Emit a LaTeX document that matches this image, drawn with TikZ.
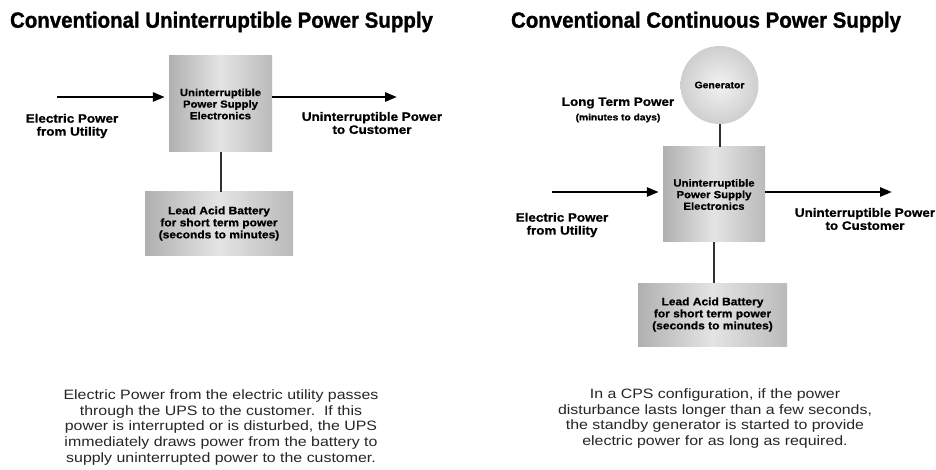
\documentclass[tikz,border=0pt]{standalone}
\usepackage{fontspec}
\setmainfont{Liberation Sans}
\newfontfamily\titlefont[FakeStretch=0.93,FakeBold=1.2]{Liberation Sans}
\newfontfamily\labelfont[FakeStretch=1.1,FakeBold=0.8]{Liberation Sans}
\newfontfamily\bodyfont[FakeStretch=1.17]{Liberation Sans}
\usetikzlibrary{arrows.meta,backgrounds}
\definecolor{boxleft}{HTML}{B0B0B0}
\definecolor{boxright}{HTML}{BABABA}
\definecolor{boxmid}{HTML}{E4E4E4}
\definecolor{shadowgray}{HTML}{8C8C8C}
\definecolor{linegray}{HTML}{303030}
\tikzset{
  titletext/.style={font=\titlefont\bfseries\fontsize{22}{24}\selectfont, inner sep=0pt},
  flowlabel/.style={font=\labelfont\bfseries\fontsize{12.2}{13}\selectfont, align=center, inner sep=0pt},
  boxtext/.style={font=\labelfont\bfseries\fontsize{10.3}{11.6}\selectfont, align=center},
  battext/.style={font=\labelfont\bfseries\fontsize{10.9}{12}\selectfont, align=center},
  unitbox/.style={rectangle, left color=boxleft, right color=boxright, middle color=boxmid, draw=none, inner sep=0pt},
  genball/.style={circle, inner color=gray!10, outer color=gray!38, draw=none, minimum size=78pt, inner sep=0pt,
     font=\labelfont\bfseries\fontsize{9.5}{11}\selectfont},
  flowarrow/.style={line width=2.6pt, -{Triangle[length=12pt,width=9pt]}},
  tieline/.style={line width=2pt, draw=linegray},
  bodytext/.style={font=\bodyfont\fontsize{13.6}{15.7}\selectfont, align=center, text=black!85, inner sep=0pt}
}
\begin{document}
\begin{tikzpicture}[x=1pt,y=-1pt]
\useasboundingbox (0,0) rectangle (936,470);
\fill[white] (0,0) rectangle (936,470);

% ---------- Left panel ----------
\node[titletext] (titleL) at (221.5,22) {Conventional Uninterruptible Power Supply};
\node[unitbox, minimum width=103pt, minimum height=96pt] (upsL) at (220.5,104) {};
\node[boxtext] (upsLtext) at (upsL.center) {Uninterruptible\\Power Supply\\Electronics};
\node[unitbox, minimum width=148pt, minimum height=63pt] (batL) at (219,223.5) {};
\node[battext] (batLtext) at (batL.center) {Lead Acid Battery\\for short term power\\(seconds to minutes)};
\node[flowlabel] (inLlab) at (72,126) {Electric Power\\from Utility};
\node[flowlabel] (outLlab) at (372,123) {Uninterruptible Power\\to Customer};
\coordinate (inL) at (57,97);
\coordinate (outL) at (397,97);
\draw[flowarrow, shorten >=4pt] (inL) -- (inL -| upsL.west);
\draw[flowarrow] (outL -| upsL.east) -- (outL);
\draw[tieline] (upsL.south) -- (upsL.south |- batL.north);

% ---------- Right panel ----------
\node[titletext] (titleR) at (706,22) {Conventional Continuous Power Supply};
\node[genball] (gen) at (719.5,85) {Generator};
\node[flowlabel] (ltp) at (618,103) {Long Term Power};
\node[font=\labelfont\bfseries\fontsize{9.3}{10}\selectfont, inner sep=0pt] (ltpsub) at (618,118) {(minutes to days)};
\node[unitbox, minimum width=102pt, minimum height=95pt] (upsR) at (714,194.5) {};
\node[boxtext] (upsRtext) at (upsR.center) {Uninterruptible\\Power Supply\\Electronics};
\node[unitbox, minimum width=149pt, minimum height=63pt] (batR) at (712.5,314.5) {};
\node[battext] (batRtext) at (batR.center) {Lead Acid Battery\\for short term power\\(seconds to minutes)};
\node[flowlabel] (inRlab) at (562,225) {Electric Power\\from Utility};
\node[flowlabel] (outRlab) at (865,219) {Uninterruptible Power\\to Customer};
\coordinate (inR) at (552,192);
\coordinate (outR) at (892,192);
\draw[flowarrow, shorten >=4pt] (inR) -- (inR -| upsR.west);
\draw[flowarrow] (outR -| upsR.east) -- (outR);
\draw[tieline] (gen.south) -- (gen.south |- upsR.north);
\draw[tieline] (upsR.south) -- (upsR.south |- batR.north);

% ---------- shadows ----------
\begin{scope}[on background layer]
\foreach \b in {upsL,batL,upsR,batR}{
  \fill[shadowgray] ([shift={(6,6)}]\b.south west) rectangle ([shift={(6,6)}]\b.north east);
}
\end{scope}

% ---------- captions ----------
\node[bodytext] (capL) at (221,427.4) {Electric Power from the electric utility passes\\through the UPS to the customer.\ \ If this\\power is interrupted or is disturbed, the UPS\\immediately draws power from the battery to\\supply uninterrupted power to the customer.};
\node[bodytext] (capR) at (715,418.5) {In a CPS configuration, if the power\\disturbance lasts longer than a few seconds,\\the standby generator is started to provide\\electric power for as long as required.};
\end{tikzpicture}
\end{document}
